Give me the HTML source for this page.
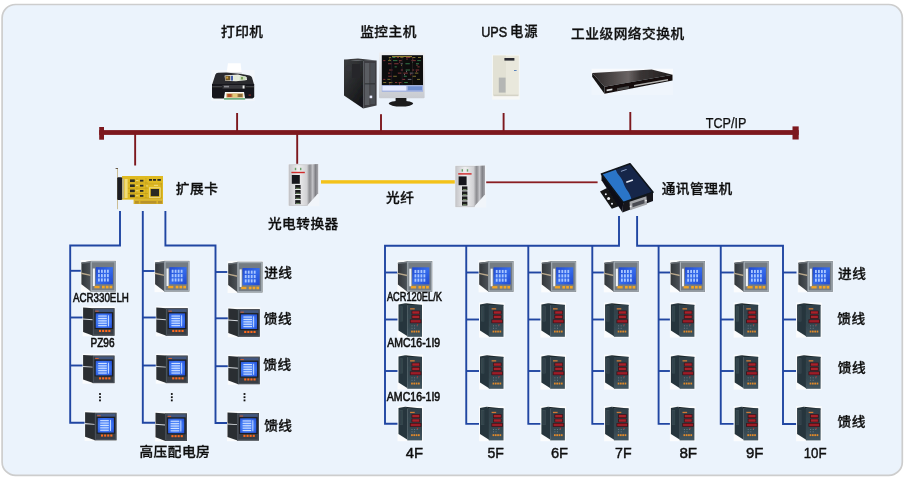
<!DOCTYPE html>
<html lang="zh-CN"><head><meta charset="utf-8"><title>电力监控系统网络结构图</title>
<style>
html,body{margin:0;padding:0;background:#fff;}
body{width:905px;height:480px;overflow:hidden;font-family:"Liberation Sans","Noto Sans CJK SC",sans-serif;}
svg{display:block;}
</style></head><body>
<svg width="905" height="480" viewBox="0 0 905 480">
<defs>
<linearGradient id="gSide" x1="0" y1="0" x2="1" y2="0"><stop offset="0" stop-color="#33373b"/><stop offset="1" stop-color="#4c5258"/></linearGradient>
<linearGradient id="gLcd" x1="0" y1="0" x2="1" y2="1"><stop offset="0" stop-color="#2048d0"/><stop offset="0.5" stop-color="#356cec"/><stop offset="1" stop-color="#2048d0"/></linearGradient>
<linearGradient id="gConvSide" x1="0" y1="0" x2="1" y2="0"><stop offset="0" stop-color="#bdbdc0"/><stop offset="0.25" stop-color="#8c8c90"/><stop offset="0.5" stop-color="#c4c4c8"/><stop offset="0.75" stop-color="#808085"/><stop offset="1" stop-color="#a8a8ad"/></linearGradient>
<linearGradient id="gConvFront" x1="0" y1="0" x2="1" y2="0"><stop offset="0" stop-color="#c6c6ca"/><stop offset="0.5" stop-color="#eeeeef"/><stop offset="1" stop-color="#cfcfd2"/></linearGradient>
<linearGradient id="gSwTop" x1="0" y1="0" x2="1" y2="0"><stop offset="0" stop-color="#2a2626"/><stop offset="0.45" stop-color="#6a6464"/><stop offset="0.6" stop-color="#3a3535"/><stop offset="1" stop-color="#221f1f"/></linearGradient>
<linearGradient id="gTower" x1="0" y1="0" x2="0.6" y2="1"><stop offset="0" stop-color="#3c3e40"/><stop offset="1" stop-color="#17181a"/></linearGradient>
<linearGradient id="gAmc" x1="0" y1="0" x2="0" y2="1"><stop offset="0" stop-color="#2f4049"/><stop offset="0.7" stop-color="#364851"/><stop offset="1" stop-color="#42555f"/></linearGradient>
<radialGradient id="gLcd2" cx="0.45" cy="0.5" r="0.7"><stop offset="0" stop-color="#6a9cff"/><stop offset="0.6" stop-color="#3c74f2"/><stop offset="1" stop-color="#2450d8"/></radialGradient>
<linearGradient id="gBezel" x1="0" y1="0" x2="0" y2="1"><stop offset="0" stop-color="#eef0f3"/><stop offset="1" stop-color="#c8cbd1"/></linearGradient>
<filter id="soft" x="-10%" y="-10%" width="120%" height="120%"><feGaussianBlur stdDeviation="0.5"/></filter>
<filter id="tsoft" x="-2%" y="-2%" width="104%" height="104%"><feGaussianBlur stdDeviation="0.28"/></filter>
<filter id="soft2" x="-10%" y="-10%" width="120%" height="120%"><feGaussianBlur stdDeviation="0.35"/></filter>

<g id="mSilver">
 <rect x="0" y="0" width="35.5" height="31" fill="#fbfcfd" filter="url(#soft)"/>
 <g filter="url(#soft2)">
 <polygon points="0.6,2.4 10,1.2 10,30.4 0.6,23.4" fill="url(#gSide)"/>
 <polygon points="0.6,2.4 10,1.2 10,2.6 0.6,3.6" fill="#6a7076"/>
 <line x1="0.3" y1="12.8" x2="10" y2="14.8" stroke="#b9a88c" stroke-width="1.3"/>
 <rect x="9.6" y="0.8" width="25.4" height="29.8" fill="#747c83"/>
 <rect x="10.5" y="1.7" width="23.6" height="28" fill="none" stroke="#a7afb6" stroke-width="1"/>
 <rect x="12" y="8.2" width="2.1" height="17" fill="#f2f5f9"/>
 <rect x="14.9" y="6.9" width="17.2" height="16.5" fill="url(#gLcd)"/>
 <g fill="#a9c6ff">
  <rect x="17.2" y="9.4" width="1.8" height="3"/><rect x="20.2" y="9.4" width="1.8" height="3"/><rect x="23.2" y="9.4" width="1.8" height="3"/><rect x="26.2" y="9.4" width="1.8" height="3"/>
  <rect x="17.2" y="13.6" width="1.8" height="3"/><rect x="20.2" y="13.6" width="1.8" height="3"/><rect x="23.2" y="13.6" width="1.8" height="3"/><rect x="26.2" y="13.6" width="1.8" height="3"/>
  <rect x="17.2" y="17.8" width="1.8" height="3"/><rect x="20.2" y="17.8" width="1.8" height="3"/><rect x="23.2" y="17.8" width="1.8" height="3"/><rect x="26.2" y="17.8" width="1.8" height="3"/>
 </g>
 <rect x="13.6" y="25" width="5.2" height="2.3" fill="#f0a428"/>
 <rect x="21.2" y="24.9" width="2.7" height="2.5" fill="#f5a623"/><rect x="25" y="24.9" width="2.7" height="2.5" fill="#f5a623"/><rect x="28.8" y="24.9" width="2.7" height="2.5" fill="#f5a623"/>
 </g>
</g>

<g id="mBlack">
 <rect x="0" y="0" width="32.5" height="30" fill="#fbfcfd" filter="url(#soft)"/>
 <g filter="url(#soft2)">
 <polygon points="0.5,1.3 10.5,1.9 10.5,29.4 0.5,25.8" fill="#2a2e32"/>
 <polygon points="0,12.2 10.3,13 10.3,13.9 0,13.3" fill="#d8dce0"/>
 <rect x="10" y="1.8" width="22" height="27.7" fill="#383e45"/>
 <rect x="10.8" y="2.6" width="20.4" height="26.1" fill="none" stroke="#4f565e" stroke-width="0.8"/>
 <rect x="12.6" y="3" width="18" height="2.6" fill="#4c6cae" opacity="0.55"/>
 <rect x="12" y="6" width="18.6" height="16.8" fill="#1b1e22"/>
 <rect x="13.1" y="7.1" width="16.2" height="14.6" fill="url(#gLcd2)"/>
 <g fill="#cfe0ff">
  <rect x="15.6" y="9.2" width="8.6" height="1.1"/><rect x="15.6" y="11.6" width="8.6" height="1.1"/><rect x="15.6" y="14" width="8.6" height="1.1"/><rect x="15.6" y="16.4" width="8.6" height="1.1"/><rect x="15.6" y="18.8" width="8.6" height="1.1"/>
  <rect x="25.4" y="9" width="0.9" height="11"/>
 </g>
 <rect x="12.6" y="4.4" width="3.5" height="0.9" fill="#e06028"/>
 <rect x="16.4" y="23.6" width="2.1" height="2.1" fill="#ff6a1e"/><rect x="19.5" y="23.6" width="2.1" height="2.1" fill="#ff6a1e"/><rect x="22.6" y="23.6" width="2.1" height="2.1" fill="#ff6a1e"/><rect x="25.7" y="23.6" width="2.1" height="2.1" fill="#ff6a1e"/>
 </g>
</g>

<g id="mAmc">
 <rect x="0" y="-0.4" width="25.6" height="35" fill="#fbfcfd" filter="url(#soft)"/>
 <g filter="url(#soft2)">
 <polygon points="1,1.4 7.6,0.2 10,1.6 10,33.2 1,27.4" fill="#27363d"/>
 <polygon points="7.6,0.2 24.4,2 24.4,2.8 10,2.2" fill="#1a2328"/>
 <rect x="9.8" y="1.8" width="14.7" height="32" fill="url(#gAmc)"/>
 <rect x="2.2" y="3.4" width="3" height="15" fill="#44555d" opacity="0.8"/>
 <rect x="2.9" y="4" width="0.6" height="14" fill="#2a3a42"/><rect x="4" y="4" width="0.6" height="14" fill="#2a3a42"/>
 <rect x="12.6" y="5.2" width="4.6" height="1.3" fill="#d07a34"/>
 <rect x="14" y="7.6" width="8.6" height="3.8" fill="#3c1218"/><rect x="14.8" y="8.3" width="7" height="2.4" fill="#a8222c"/>
 <rect x="14" y="12" width="8.6" height="3.8" fill="#3c1218"/><rect x="14.8" y="12.7" width="7" height="2.4" fill="#a8222c"/>
 <rect x="12.4" y="16.4" width="11.4" height="3.8" fill="#3c1218"/><rect x="13.2" y="17.1" width="9.8" height="2.4" fill="#9c1e28"/>
 <g fill="#6f808c"><rect x="14" y="22.4" width="1" height="0.9"/><rect x="16.6" y="22.4" width="1" height="0.9"/><rect x="19.2" y="22.4" width="1" height="0.9"/><rect x="14" y="24.8" width="1" height="0.9"/><rect x="16.6" y="24.8" width="1" height="0.9"/></g>
 <rect x="19.4" y="21.2" width="1.2" height="1.1" fill="#c03030"/>
 <g fill="#e08a2c"><rect x="13.6" y="27.6" width="1.7" height="1.9"/><rect x="15.9" y="27.6" width="1.7" height="1.9"/><rect x="18.2" y="27.6" width="1.7" height="1.9"/><rect x="20.5" y="27.6" width="1.7" height="1.9"/></g>
 </g>
</g>
</defs>
<rect x="2.1" y="4.5" width="900.2" height="470.9" rx="13.5" ry="13.5" fill="#ebf3fc" stroke="#cdcdcd" stroke-width="1.7"/>
<g fill="#7d181e">
<rect x="99.2" y="130.1" width="699.5" height="4.8"/>
<rect x="99.2" y="127" width="4.8" height="12.7"/>
<rect x="792.5" y="126.4" width="6.2" height="13.1"/>
<rect x="134.20" y="134" width="1.9" height="31.50"/>
<rect x="236.15" y="113" width="1.9" height="18.00"/>
<rect x="380.05" y="114.2" width="1.9" height="16.80"/>
<rect x="296.25" y="134" width="1.9" height="30.00"/>
<rect x="502.65" y="113" width="1.9" height="18.00"/>
<rect x="629.35" y="112" width="1.9" height="19.00"/>
</g>
<rect x="321" y="180.2" width="135" height="3.4" fill="#f3c21a"/>
<rect x="485" y="181.4" width="112.6" height="1.8" fill="#8a1e22"/>
<path d="M120,211 V245.5 H70.2 V422.7 H85" fill="none" stroke="#2046a2" stroke-width="1.9" stroke-linejoin="miter"/>
<path d="M142.8,211 V422.7 H155.5" fill="none" stroke="#2046a2" stroke-width="1.9" stroke-linejoin="miter"/>
<path d="M165.4,211 V245.5 H215.5 V423 H228" fill="none" stroke="#2046a2" stroke-width="1.9" stroke-linejoin="miter"/>
<path d="M70.2,270.8 H81.5" fill="none" stroke="#2046a2" stroke-width="1.9" stroke-linejoin="miter"/>
<path d="M70.2,317.5 H83" fill="none" stroke="#2046a2" stroke-width="1.9" stroke-linejoin="miter"/>
<path d="M70.2,365.5 H83.5" fill="none" stroke="#2046a2" stroke-width="1.9" stroke-linejoin="miter"/>
<path d="M142.8,271 H155" fill="none" stroke="#2046a2" stroke-width="1.9" stroke-linejoin="miter"/>
<path d="M142.8,317.5 H156.5" fill="none" stroke="#2046a2" stroke-width="1.9" stroke-linejoin="miter"/>
<path d="M142.8,365.5 H156.5" fill="none" stroke="#2046a2" stroke-width="1.9" stroke-linejoin="miter"/>
<path d="M215.5,272 H227.5" fill="none" stroke="#2046a2" stroke-width="1.9" stroke-linejoin="miter"/>
<path d="M215.5,318.3 H228.5" fill="none" stroke="#2046a2" stroke-width="1.9" stroke-linejoin="miter"/>
<path d="M215.5,366.2 H228.5" fill="none" stroke="#2046a2" stroke-width="1.9" stroke-linejoin="miter"/>
<path d="M619,216 V245.7 H385 V423.8 H398.5" fill="none" stroke="#2046a2" stroke-width="1.9" stroke-linejoin="miter"/>
<path d="M637.1,216 V245.7 H783 V424 H797" fill="none" stroke="#2046a2" stroke-width="1.9" stroke-linejoin="miter"/>
<path d="M466.25,245.7 V423.9 H479.25" fill="none" stroke="#2046a2" stroke-width="1.9" stroke-linejoin="miter"/>
<path d="M528.3,245.7 V423.9 H541.3" fill="none" stroke="#2046a2" stroke-width="1.9" stroke-linejoin="miter"/>
<path d="M592.3,245.7 V423.9 H605.3" fill="none" stroke="#2046a2" stroke-width="1.9" stroke-linejoin="miter"/>
<path d="M658.6,245.7 V423.9 H671.6" fill="none" stroke="#2046a2" stroke-width="1.9" stroke-linejoin="miter"/>
<path d="M720.75,245.7 V423.9 H733.75" fill="none" stroke="#2046a2" stroke-width="1.9" stroke-linejoin="miter"/>
<path d="M385,272.5 H398.5" fill="none" stroke="#2046a2" stroke-width="1.9" stroke-linejoin="miter"/>
<path d="M385,319.5 H398.5" fill="none" stroke="#2046a2" stroke-width="1.9" stroke-linejoin="miter"/>
<path d="M385,371 H398.5" fill="none" stroke="#2046a2" stroke-width="1.9" stroke-linejoin="miter"/>
<path d="M466.25,272.5 H479.75" fill="none" stroke="#2046a2" stroke-width="1.9" stroke-linejoin="miter"/>
<path d="M466.25,319.5 H479.75" fill="none" stroke="#2046a2" stroke-width="1.9" stroke-linejoin="miter"/>
<path d="M466.25,371 H479.75" fill="none" stroke="#2046a2" stroke-width="1.9" stroke-linejoin="miter"/>
<path d="M528.3,272.5 H541.8" fill="none" stroke="#2046a2" stroke-width="1.9" stroke-linejoin="miter"/>
<path d="M528.3,319.5 H541.8" fill="none" stroke="#2046a2" stroke-width="1.9" stroke-linejoin="miter"/>
<path d="M528.3,371 H541.8" fill="none" stroke="#2046a2" stroke-width="1.9" stroke-linejoin="miter"/>
<path d="M592.3,272.5 H605.8" fill="none" stroke="#2046a2" stroke-width="1.9" stroke-linejoin="miter"/>
<path d="M592.3,319.5 H605.8" fill="none" stroke="#2046a2" stroke-width="1.9" stroke-linejoin="miter"/>
<path d="M592.3,371 H605.8" fill="none" stroke="#2046a2" stroke-width="1.9" stroke-linejoin="miter"/>
<path d="M658.6,272.5 H672.1" fill="none" stroke="#2046a2" stroke-width="1.9" stroke-linejoin="miter"/>
<path d="M658.6,319.5 H672.1" fill="none" stroke="#2046a2" stroke-width="1.9" stroke-linejoin="miter"/>
<path d="M658.6,371 H672.1" fill="none" stroke="#2046a2" stroke-width="1.9" stroke-linejoin="miter"/>
<path d="M720.75,272.5 H734.25" fill="none" stroke="#2046a2" stroke-width="1.9" stroke-linejoin="miter"/>
<path d="M720.75,319.5 H734.25" fill="none" stroke="#2046a2" stroke-width="1.9" stroke-linejoin="miter"/>
<path d="M720.75,371 H734.25" fill="none" stroke="#2046a2" stroke-width="1.9" stroke-linejoin="miter"/>
<path d="M783,272.5 H796.5" fill="none" stroke="#2046a2" stroke-width="1.9" stroke-linejoin="miter"/>
<path d="M783,319.5 H796.5" fill="none" stroke="#2046a2" stroke-width="1.9" stroke-linejoin="miter"/>
<path d="M783,371 H796.5" fill="none" stroke="#2046a2" stroke-width="1.9" stroke-linejoin="miter"/>
<use href="#mSilver" transform="translate(80.8,260.0) scale(1,1.035)"/>
<use href="#mBlack" x="82.6" y="306.3"/>
<use href="#mBlack" x="82.6" y="353.7"/>
<use href="#mBlack" x="84.6" y="410.9"/>
<use href="#mSilver" transform="translate(154.5,260.0) scale(1,1.035)"/>
<use href="#mBlack" x="155.8" y="306.3"/>
<use href="#mBlack" x="155.8" y="353.7"/>
<use href="#mBlack" x="155" y="411.5"/>
<use href="#mSilver" transform="translate(227.6,260.9) scale(1,1.035)"/>
<use href="#mBlack" x="227.8" y="307.3"/>
<use href="#mBlack" x="227.8" y="354.8"/>
<use href="#mBlack" x="227" y="411.2"/>
<use href="#mSilver" transform="translate(397.3,260.2) scale(1,1.035)"/>
<use href="#mAmc" x="397.5" y="303"/>
<use href="#mAmc" x="397.5" y="355"/>
<use href="#mAmc" x="397.5" y="406.6"/>
<use href="#mSilver" transform="translate(478.6,260.2) scale(1,1.035)"/>
<use href="#mAmc" x="479" y="303"/>
<use href="#mAmc" x="479" y="355"/>
<use href="#mAmc" x="479" y="406.6"/>
<use href="#mSilver" transform="translate(541.2,260.2) scale(1,1.035)"/>
<use href="#mAmc" x="540.4" y="303"/>
<use href="#mAmc" x="540.4" y="355"/>
<use href="#mAmc" x="540.4" y="406.6"/>
<use href="#mSilver" transform="translate(603.8,260.2) scale(1,1.035)"/>
<use href="#mAmc" x="604.1" y="303"/>
<use href="#mAmc" x="604.1" y="355"/>
<use href="#mAmc" x="604.1" y="406.6"/>
<use href="#mSilver" transform="translate(670,260.2) scale(1,1.035)"/>
<use href="#mAmc" x="669.9" y="303"/>
<use href="#mAmc" x="669.9" y="355"/>
<use href="#mAmc" x="669.9" y="406.6"/>
<use href="#mSilver" transform="translate(733.8,260.2) scale(1,1.035)"/>
<use href="#mAmc" x="733.7" y="303"/>
<use href="#mAmc" x="733.7" y="355"/>
<use href="#mAmc" x="733.7" y="406.6"/>
<use href="#mSilver" transform="translate(797.8,260.2) scale(1,1.035)"/>
<use href="#mAmc" x="796.1" y="303"/>
<use href="#mAmc" x="796.1" y="355"/>
<use href="#mAmc" x="796.1" y="406.6"/>
<g id="printer">
<rect x="211.5" y="70" width="43" height="31" fill="#f4f7fb" opacity="0.8" filter="url(#soft)"/>
<g filter="url(#soft2)">
<polygon points="228,63.3 240.6,63.3 241.8,74 226.4,74" fill="#ffffff"/>
<polygon points="226.4,72.6 241.7,72.6 241.8,74.4 226.3,74.4" fill="#c9ccd2"/>
<path d="M212,85 L215.4,74.6 Q216,72.8 218,72.8 L226,72.4 L243,74.2 L249.6,75.6 Q251.4,76 252,77.6 L254.2,85 Z" fill="#2a2a2d"/>
<path d="M212,84 H254.2 V96.6 Q254.2,98.4 252.4,98.4 H213.8 Q212,98.4 212,96.6 Z" fill="#19191c"/>
<polygon points="224.6,75.4 238,74.4 246.6,77 247,80 236,81.3 225.2,80.8" fill="#eceee8"/>
<rect x="225.4" y="76" width="4.8" height="4.4" fill="#6d5226"/><rect x="226.2" y="76.6" width="2" height="2" fill="#c9a040"/>
<rect x="230.8" y="75.8" width="2.2" height="4.8" fill="#4660a8"/>
<rect x="233.6" y="75.4" width="5.2" height="5.2" fill="#e3ead8"/><rect x="239.6" y="76.2" width="6" height="4" fill="#cadcb8"/><rect x="241" y="77" width="2" height="2.4" fill="#7aa05a"/>
<rect x="222.5" y="85" width="22.8" height="3.7" fill="#38383c"/>
<rect x="224" y="85.8" width="5" height="1.6" fill="#8a8a90"/>
<rect x="242.6" y="85.5" width="1.9" height="3" fill="#ececec"/>
<rect x="212.3" y="86.3" width="9.6" height="0.9" fill="#56565a"/><rect x="245.8" y="86.3" width="8.2" height="0.9" fill="#56565a"/>
<polygon points="225,92 244,92 245.2,99.3 223.8,99.3" fill="#fafafa"/>
<rect x="226.4" y="93.4" width="16.8" height="4.2" fill="#c9a25a"/><rect x="227.4" y="94" width="4.2" height="3" fill="#b4502a"/><rect x="232.8" y="94" width="4.2" height="3" fill="#e4c878"/><rect x="238.2" y="94" width="4" height="3" fill="#8a6a3a"/>
<rect x="224" y="98.3" width="21.2" height="1.2" fill="#2f8a4a"/>
<rect x="248.6" y="94.6" width="2.4" height="1" fill="#a03030"/>
</g></g>
<g id="pc">
<g filter="url(#soft2)">
<polygon points="344,59.6 363.2,61 363.2,108.4 344,95.4" fill="url(#gTower)"/>
<polygon points="344,59.6 358,58.6 376.6,60.6 363.2,61" fill="#3a3b3e"/>
<polygon points="363.2,61 376.6,60.6 376.6,105.6 363.2,108.4" fill="#3c3e42"/>
<rect x="364.8" y="63" width="4.6" height="42" fill="#5a5d62"/>
<rect x="370.2" y="63" width="4.8" height="41" fill="#4a4d52"/>
<rect x="364.8" y="83.4" width="10.2" height="0.9" fill="#2a2b2e"/>
<rect x="369.6" y="95.6" width="2.6" height="2.6" fill="#e8ecff"/>
<circle cx="348.6" cy="68.5" r="3" fill="#34363a"/>
<rect x="352" y="64" width="8" height="14" fill="#26282b"/>
<rect x="379" y="52.3" width="45.6" height="46" rx="1" fill="url(#gBezel)"/>
<rect x="381.8" y="55.2" width="41.2" height="30" fill="#0b0b10"/>
<rect x="381.8" y="85.2" width="41.2" height="6.6" fill="#9fb0e0"/>
<rect x="382.4" y="86" width="24" height="4.6" fill="#e6eaff"/><rect x="408" y="86.4" width="14" height="3.8" fill="#6f8fd0"/>
<rect x="388.8" y="57.2" width="2.2" height="0.8" fill="#b0a040" opacity="0.85"/><rect x="389.4" y="58.4" width="0.8" height="1.4" fill="#b0a040" opacity="0.8"/><rect x="392.4" y="57.2" width="3" height="0.8" fill="#4aa860" opacity="0.85"/><rect x="396.8" y="57.2" width="2.2" height="0.8" fill="#b84a4a" opacity="0.85"/><rect x="400.4" y="57.2" width="3" height="0.8" fill="#b0a040" opacity="0.85"/><rect x="406.0" y="57.2" width="4.4" height="0.8" fill="#b84a4a" opacity="0.85"/><rect x="406.6" y="58.4" width="0.8" height="1.4" fill="#d06060" opacity="0.8"/><rect x="411.8" y="57.2" width="3.6" height="0.8" fill="#b0a040" opacity="0.85"/><rect x="412.4" y="58.4" width="0.8" height="1.4" fill="#c25050" opacity="0.8"/><rect x="418.0" y="57.2" width="3" height="0.8" fill="#b0a040" opacity="0.85"/><rect x="383.2" y="60.3" width="2.2" height="0.8" fill="#b84a4a" opacity="0.85"/><rect x="388.0" y="60.3" width="3" height="0.8" fill="#b0a040" opacity="0.85"/><rect x="393.0" y="60.3" width="4.4" height="0.8" fill="#4aa860" opacity="0.85"/><rect x="398.8" y="60.3" width="3" height="0.8" fill="#b84a4a" opacity="0.85"/><rect x="399.4" y="61.5" width="0.8" height="1.4" fill="#c25050" opacity="0.8"/><rect x="411.4" y="60.3" width="4.4" height="0.8" fill="#b84a4a" opacity="0.85"/><rect x="412.0" y="61.5" width="0.8" height="1.4" fill="#4aa860" opacity="0.8"/><rect x="417.2" y="60.3" width="3.6" height="0.8" fill="#4aa860" opacity="0.85"/><rect x="388.0" y="63.4" width="3.6" height="0.8" fill="#c25050" opacity="0.85"/><rect x="394.2" y="63.4" width="4.4" height="0.8" fill="#b84a4a" opacity="0.85"/><rect x="400.6" y="63.4" width="2.2" height="0.8" fill="#9a9aa8" opacity="0.85"/><rect x="401.2" y="64.6" width="0.8" height="1.4" fill="#b0a040" opacity="0.8"/><rect x="405.4" y="63.4" width="4.4" height="0.8" fill="#4aa860" opacity="0.85"/><rect x="416.0" y="63.4" width="3" height="0.8" fill="#4aa860" opacity="0.85"/><rect x="416.6" y="64.6" width="0.8" height="1.4" fill="#d06060" opacity="0.8"/><rect x="394.6" y="66.5" width="2.2" height="0.8" fill="#4aa860" opacity="0.85"/><rect x="417.4" y="66.5" width="2.2" height="0.8" fill="#b84a4a" opacity="0.85"/><rect x="389.0" y="69.6" width="3.6" height="0.8" fill="#b84a4a" opacity="0.85"/><rect x="400.8" y="69.6" width="2.2" height="0.8" fill="#d06060" opacity="0.85"/><rect x="405.6" y="69.6" width="4.4" height="0.8" fill="#4aa860" opacity="0.85"/><rect x="406.2" y="70.8" width="0.8" height="1.4" fill="#9a9aa8" opacity="0.8"/><rect x="412.0" y="69.6" width="2.2" height="0.8" fill="#b84a4a" opacity="0.85"/><rect x="415.6" y="69.6" width="3.6" height="0.8" fill="#b84a4a" opacity="0.85"/><rect x="416.2" y="70.8" width="0.8" height="1.4" fill="#b84a4a" opacity="0.8"/><rect x="388.0" y="72.7" width="2.2" height="0.8" fill="#b84a4a" opacity="0.85"/><rect x="397.8" y="72.7" width="3.6" height="0.8" fill="#b84a4a" opacity="0.85"/><rect x="403.4" y="72.7" width="4.4" height="0.8" fill="#b84a4a" opacity="0.85"/><rect x="404.0" y="73.9" width="0.8" height="1.4" fill="#9a9aa8" opacity="0.8"/><rect x="409.8" y="72.7" width="3.6" height="0.8" fill="#9a9aa8" opacity="0.85"/><rect x="410.4" y="73.9" width="0.8" height="1.4" fill="#b84a4a" opacity="0.8"/><rect x="414.8" y="72.7" width="3.6" height="0.8" fill="#b0a040" opacity="0.85"/><rect x="388.2" y="75.8" width="3.6" height="0.8" fill="#b84a4a" opacity="0.85"/><rect x="393.2" y="75.8" width="3.6" height="0.8" fill="#b0a040" opacity="0.85"/><rect x="403.8" y="75.8" width="3" height="0.8" fill="#4aa860" opacity="0.85"/><rect x="412.4" y="75.8" width="3.6" height="0.8" fill="#b0a040" opacity="0.85"/><rect x="383.2" y="78.9" width="2.2" height="0.8" fill="#b84a4a" opacity="0.85"/><rect x="387.4" y="78.9" width="3" height="0.8" fill="#b0a040" opacity="0.85"/><rect x="402.2" y="78.9" width="3" height="0.8" fill="#b84a4a" opacity="0.85"/><rect x="407.8" y="78.9" width="3.6" height="0.8" fill="#9a9aa8" opacity="0.85"/><rect x="417.0" y="78.9" width="3" height="0.8" fill="#b0a040" opacity="0.85"/><rect x="383.2" y="82.0" width="3" height="0.8" fill="#b0a040" opacity="0.85"/><rect x="388.8" y="82.0" width="3.6" height="0.8" fill="#b0a040" opacity="0.85"/><rect x="389.4" y="83.2" width="0.8" height="1.4" fill="#b84a4a" opacity="0.8"/><rect x="395.0" y="82.0" width="2.2" height="0.8" fill="#b84a4a" opacity="0.85"/><rect x="398.6" y="82.0" width="3" height="0.8" fill="#b84a4a" opacity="0.85"/><rect x="399.2" y="83.2" width="0.8" height="1.4" fill="#b84a4a" opacity="0.8"/><rect x="404.2" y="82.0" width="3.6" height="0.8" fill="#4aa860" opacity="0.85"/><rect x="392" y="56.1" width="20" height="0.8" fill="#c8b040" opacity="0.9"/><rect x="391.6" y="57" width="0.5" height="27.6" fill="#3a2a2e"/><rect x="401.8" y="57" width="0.5" height="27.6" fill="#3a2a2e"/><rect x="412.2" y="57" width="0.5" height="27.6" fill="#3a2a2e"/>
<rect x="395.6" y="98" width="10.8" height="5" fill="#1c1c1f"/>
<ellipse cx="401" cy="103.6" rx="12.2" ry="2.9" fill="#1a1a1d"/>
</g></g>
<g id="ups">
<rect x="492.2" y="54.8" width="27.5" height="44.8" fill="#f7f8f6" filter="url(#soft)"/>
<g filter="url(#soft2)">
<rect x="493" y="55.6" width="25.8" height="39.6" fill="#e9e8dc"/>
<rect x="493" y="55.6" width="13" height="39.6" fill="#e2e1d4"/>
<rect x="504.4" y="58" width="10" height="2.6" fill="#2a2c30"/>
<rect x="498.8" y="77.6" width="6.8" height="15" fill="#b4b6b4"/>
<rect x="514" y="70" width="2.6" height="0.9" fill="#4a78b8"/>
<rect x="493.5" y="94.6" width="25" height="1.6" fill="#d4d3c6"/>
</g></g>
<g id="switch">
<rect x="591.6" y="68.8" width="81.4" height="8" fill="#f8fafd" filter="url(#soft)"/>
<rect x="591.6" y="76" width="81.4" height="19" fill="#f3f7fc" opacity="0.55" filter="url(#soft)"/>
<g filter="url(#soft2)">
<polygon points="592.2,73 651.7,69.6 672.5,74.8 604.5,86.8" fill="url(#gSwTop)"/>
<polygon points="592.2,73 604.5,86.8 604.5,93.8 592.2,76.8" fill="#141212"/>
<polygon points="604.5,86.8 672.5,74.8 672.5,80.4 604.5,93.8" fill="#120f0f"/>
<polygon points="634,85 668,79 668,80.6 634,86.6" fill="#b4b2b0"/>
<polygon points="617,88.2 629,86.1 629,88.6 617,90.7" fill="#4a4848"/>
<polygon points="606.6,89.6 612.4,88.6 612.4,90.2 606.6,91.2" fill="#d8d8d8"/>
</g></g>
<g id="card">
<g filter="url(#soft2)">
<rect x="117" y="168.6" width="0.9" height="40.6" fill="#c9b88a"/>
<rect x="115.6" y="168" width="2.4" height="0.9" fill="#5a4a3a"/>
<rect x="122" y="176" width="41" height="23.6" fill="#dfba22"/>
<g fill="#b8941c" opacity="0.75"><rect x="128" y="182.6" width="20" height="0.7"/><rect x="128" y="187.8" width="20" height="0.7"/><rect x="128" y="193" width="20" height="0.7"/><rect x="136.6" y="178" width="0.7" height="20"/><rect x="145.6" y="178" width="0.7" height="20"/><rect x="147" y="183.6" width="15" height="0.7"/><rect x="160.8" y="183" width="0.8" height="15"/><rect x="135" y="197.6" width="27" height="0.8"/></g>
<g fill="#f2e08a" opacity="0.8"><rect x="136" y="180" width="2.4" height="1"/><rect x="136" y="185" width="2.4" height="1"/><rect x="136" y="190.2" width="2.4" height="1"/><rect x="136" y="195.2" width="2.4" height="1"/><rect x="146" y="185.4" width="2" height="1"/><rect x="154" y="184.8" width="4" height="1.2"/></g>
<rect x="133.6" y="199.2" width="29.4" height="4.8" fill="#d9b32c"/>
<rect x="135" y="201" width="3.8" height="2.6" fill="#b8922a"/><rect x="140.4" y="201" width="16" height="2.6" fill="#b8922a"/><rect x="158" y="201" width="4" height="2.6" fill="#b8922a"/>
<rect x="117.2" y="177.2" width="5" height="22.8" rx="1" fill="#1e1e20"/>
<rect x="122.2" y="178.5" width="1.6" height="20" fill="#b9b19a"/>
<rect x="124.6" y="179" width="3" height="19" fill="#f0dc7a"/>
<g fill="#2a2a22">
<rect x="130" y="179.4" width="4.8" height="2.6"/><rect x="130" y="184.4" width="4.8" height="2.6"/><rect x="130" y="189.6" width="4.8" height="2.6"/><rect x="130" y="194.6" width="4.8" height="2.6"/>
<rect x="140" y="179.8" width="3.4" height="1.8"/><rect x="140" y="184.8" width="3.4" height="1.8"/><rect x="140" y="190" width="3.4" height="1.8"/><rect x="140" y="195" width="3.4" height="1.8"/>
<rect x="149" y="179" width="3" height="1.8"/><rect x="153" y="179" width="3" height="1.8"/><rect x="157.4" y="179" width="3.4" height="1.8"/>
<rect x="150.8" y="189" width="8.2" height="7.2"/>
</g>
<rect x="149.6" y="187.8" width="10.6" height="9.6" fill="none" stroke="#f3e6a0" stroke-width="0.7"/>
</g></g>
<g id="conv1" transform="translate(288.6,164.2)">
<rect x="-0.6" y="-0.4" width="31.4" height="42.4" fill="#f1f5fa" filter="url(#soft)"/>
<g filter="url(#soft2)">
<polygon points="18.6,0.4 29.6,-0.2 29.6,29 18.6,41.2" fill="url(#gConvSide)"/>
<rect x="0.4" y="0.6" width="18.4" height="40.6" fill="url(#gConvFront)"/>
<rect x="0.4" y="0.6" width="18.4" height="40.6" fill="none" stroke="#bdbdc0" stroke-width="0.6"/>
<rect x="6.2" y="3.6" width="1.4" height="2.4" fill="#6aa06a"/><rect x="11.4" y="3.6" width="1.4" height="2.4" fill="#6aa06a"/>
<rect x="2.8" y="7.6" width="13.4" height="1.4" fill="#d02a2a"/>
<rect x="3.2" y="10.8" width="8" height="8.8" fill="#17181b"/>
<rect x="6.6" y="20.8" width="5.4" height="4" fill="#1b1c1f"/><rect x="6.6" y="25.8" width="5.4" height="4" fill="#1b1c1f"/><rect x="6.6" y="30.8" width="5.4" height="4" fill="#1b1c1f"/><rect x="6.6" y="35.9" width="5.4" height="4" fill="#1b1c1f"/>
<g fill="#7a9a6a"><rect x="7.4" y="23.6" width="3.8" height="0.9"/><rect x="7.4" y="28.6" width="3.8" height="0.9"/><rect x="7.4" y="33.6" width="3.8" height="0.9"/><rect x="7.4" y="38.7" width="3.8" height="0.9"/></g>
</g></g>
<g id="conv2" transform="translate(455.4,165.6)">
<rect x="-0.6" y="-0.4" width="31.4" height="42.4" fill="#f1f5fa" filter="url(#soft)"/>
<g filter="url(#soft2)">
<polygon points="18.6,0.4 29.6,-0.2 29.6,29 18.6,41.2" fill="url(#gConvSide)"/>
<rect x="0.4" y="0.6" width="18.4" height="40.6" fill="url(#gConvFront)"/>
<rect x="0.4" y="0.6" width="18.4" height="40.6" fill="none" stroke="#bdbdc0" stroke-width="0.6"/>
<rect x="6.2" y="3.6" width="1.4" height="2.4" fill="#6aa06a"/><rect x="11.4" y="3.6" width="1.4" height="2.4" fill="#6aa06a"/>
<rect x="2.8" y="7.6" width="13.4" height="1.4" fill="#d02a2a"/>
<rect x="3.2" y="10.8" width="8" height="8.8" fill="#17181b"/>
<rect x="6.6" y="20.8" width="5.4" height="4" fill="#1b1c1f"/><rect x="6.6" y="25.8" width="5.4" height="4" fill="#1b1c1f"/><rect x="6.6" y="30.8" width="5.4" height="4" fill="#1b1c1f"/><rect x="6.6" y="35.9" width="5.4" height="4" fill="#1b1c1f"/>
<g fill="#7a9a6a"><rect x="7.4" y="23.6" width="3.8" height="0.9"/><rect x="7.4" y="28.6" width="3.8" height="0.9"/><rect x="7.4" y="33.6" width="3.8" height="0.9"/><rect x="7.4" y="38.7" width="3.8" height="0.9"/></g>
</g></g>
<g id="comm">
<g filter="url(#soft2)">
<polygon points="600,191.5 607,188 619.4,206 611.8,208.8" fill="#131418"/>
<circle cx="605.8" cy="194.2" r="1" fill="#f0f2f6"/><circle cx="608.6" cy="198.6" r="1.5" fill="#f0f2f6"/><circle cx="612" cy="203.8" r="1" fill="#f0f2f6"/>
<polygon points="601.5,174 623.2,202.4 622.5,212.6 601.5,180.2" fill="#0e1014"/>
<polygon points="623.2,202.4 653,192.2 653,201 622.5,212.6" fill="#17181c"/>
<polygon points="601.5,174 630,163.8 653,192.2 623.2,202.4" fill="#18284a"/>
<path d="M601.5,174 L615.6,169 C617,175 622,177 623.5,183 C625,189 630,192 631.5,199.6 L623.2,202.4 Z" fill="#2c74c8"/>
<rect x="626" y="180.6" width="7" height="1.4" fill="#e8eef8" transform="rotate(-19 629 181)"/>
<rect x="620.6" y="170.2" width="6" height="0.9" fill="#9ab0d8" transform="rotate(-19 623 170)"/>
<polygon points="601.5,174 630,163.8 653,192.2 623.2,202.4" fill="none" stroke="#10131a" stroke-width="1.6" stroke-linejoin="round"/>
<polygon points="629.6,201.8 646.4,196.2 647,204.4 630,210.2" fill="#a4a6aa"/>
<polygon points="632.2,203.4 644.2,199.4 644.6,203.2 632.6,207.2" fill="#4a4c52"/>
<circle cx="630.6" cy="206.4" r="0.9" fill="#e8e8ea"/><circle cx="646" cy="200.6" r="0.9" fill="#e8e8ea"/>
</g></g>
<g font-family='"Liberation Sans","Noto Sans CJK SC",sans-serif' fill="#0d0d0d" filter="url(#tsoft)">
<text transform="translate(242.25,36.4) scale(1,0.945)" font-size="13.7" font-weight="500" text-anchor="middle" letter-spacing="0.5" stroke="#0d0d0d" stroke-width="0.3">打印机</text>
<text transform="translate(388.55,36.4) scale(1,0.945)" font-size="13.7" font-weight="500" text-anchor="middle" letter-spacing="0.5" stroke="#0d0d0d" stroke-width="0.3">监控主机</text>
<text font-weight="500"><tspan x="481.2" y="36.6" font-size="15.3" font-weight="400" textLength="26" lengthAdjust="spacingAndGlyphs" stroke="#0d0d0d" stroke-width="0.5">UPS</tspan><tspan font-size="6"> </tspan><tspan x="524.3" y="36.1" text-anchor="middle" font-size="13.3" letter-spacing="0.9" stroke="#0d0d0d" stroke-width="0.3">电源</tspan></text>
<text transform="translate(627.85,38.4) scale(1,0.945)" font-size="13.7" font-weight="500" text-anchor="middle" letter-spacing="0.5" stroke="#0d0d0d" stroke-width="0.3">工业级网络交换机</text>
<text x="726" y="128" font-size="14.6" font-weight="400" text-anchor="middle" textLength="40.6" lengthAdjust="spacingAndGlyphs" stroke="#0d0d0d" stroke-width="0.25">TCP/IP</text>
<text transform="translate(197.05,193.2) scale(1,0.945)" font-size="13.7" font-weight="500" text-anchor="middle" letter-spacing="0.5" stroke="#0d0d0d" stroke-width="0.3">扩展卡</text>
<text transform="translate(303.35,228) scale(1,0.945)" font-size="13.7" font-weight="500" text-anchor="middle" letter-spacing="0.5" stroke="#0d0d0d" stroke-width="0.3">光电转换器</text>
<text transform="translate(400.15,202.3) scale(1,0.945)" font-size="13.7" font-weight="500" text-anchor="middle" letter-spacing="0.5" stroke="#0d0d0d" stroke-width="0.3">光纤</text>
<text transform="translate(697.15,192.9) scale(1,0.945)" font-size="13.7" font-weight="500" text-anchor="middle" letter-spacing="0.5" stroke="#0d0d0d" stroke-width="0.3">通讯管理机</text>
<text transform="translate(278.35,277.3) scale(1,0.945)" font-size="13.7" font-weight="500" text-anchor="middle" letter-spacing="0.5" stroke="#0d0d0d" stroke-width="0.3">进线</text>
<text transform="translate(278.05,322.8) scale(1,0.945)" font-size="13.7" font-weight="500" text-anchor="middle" letter-spacing="0.5" stroke="#0d0d0d" stroke-width="0.3">馈线</text>
<text transform="translate(277.55,369.2) scale(1,0.945)" font-size="13.7" font-weight="500" text-anchor="middle" letter-spacing="0.5" stroke="#0d0d0d" stroke-width="0.3">馈线</text>
<text transform="translate(278.35,430.4) scale(1,0.945)" font-size="13.7" font-weight="500" text-anchor="middle" letter-spacing="0.5" stroke="#0d0d0d" stroke-width="0.3">馈线</text>
<text transform="translate(174.85,456.2) scale(1,0.945)" font-size="13.7" font-weight="500" text-anchor="middle" letter-spacing="0.5" stroke="#0d0d0d" stroke-width="0.3">高压配电房</text>
<text transform="translate(852.25,277.8) scale(1,0.945)" font-size="13.7" font-weight="500" text-anchor="middle" letter-spacing="0.5" stroke="#0d0d0d" stroke-width="0.3">进线</text>
<text transform="translate(851.55,323.4) scale(1,0.945)" font-size="13.7" font-weight="500" text-anchor="middle" letter-spacing="0.5" stroke="#0d0d0d" stroke-width="0.3">馈线</text>
<text transform="translate(852.05,371.8) scale(1,0.945)" font-size="13.7" font-weight="500" text-anchor="middle" letter-spacing="0.5" stroke="#0d0d0d" stroke-width="0.3">馈线</text>
<text transform="translate(851.75,426.1) scale(1,0.945)" font-size="13.7" font-weight="500" text-anchor="middle" letter-spacing="0.5" stroke="#0d0d0d" stroke-width="0.3">馈线</text>
<text x="100.9" y="302.1" font-size="12.3" font-weight="400" text-anchor="middle" textLength="56" lengthAdjust="spacingAndGlyphs" stroke="#0d0d0d" stroke-width="0.6">ACR330ELH</text>
<text x="102.5" y="347.4" font-size="12.3" font-weight="400" text-anchor="middle" textLength="24" lengthAdjust="spacingAndGlyphs" stroke="#0d0d0d" stroke-width="0.6">PZ96</text>
<text x="414.4" y="300.6" font-size="12.3" font-weight="400" text-anchor="middle" textLength="55" lengthAdjust="spacingAndGlyphs" stroke="#0d0d0d" stroke-width="0.6">ACR120EL/K</text>
<text x="413.7" y="347.4" font-size="12.3" font-weight="400" text-anchor="middle" textLength="53" lengthAdjust="spacingAndGlyphs" stroke="#0d0d0d" stroke-width="0.6">AMC16-1I9</text>
<text x="413.5" y="400.6" font-size="12.3" font-weight="400" text-anchor="middle" textLength="53.4" lengthAdjust="spacingAndGlyphs" stroke="#0d0d0d" stroke-width="0.6">AMC16-1I9</text>
<text x="414.45" y="457.6" font-size="15.5" font-weight="400" text-anchor="middle" textLength="17.3" lengthAdjust="spacingAndGlyphs" stroke="#0d0d0d" stroke-width="0.45">4F</text>
<text x="495.6" y="457.6" font-size="15.5" font-weight="400" text-anchor="middle" textLength="16.4" lengthAdjust="spacingAndGlyphs" stroke="#0d0d0d" stroke-width="0.45">5F</text>
<text x="559.5" y="457.6" font-size="15.5" font-weight="400" text-anchor="middle" textLength="17.2" lengthAdjust="spacingAndGlyphs" stroke="#0d0d0d" stroke-width="0.45">6F</text>
<text x="623.35" y="457.6" font-size="15.5" font-weight="400" text-anchor="middle" textLength="16.5" lengthAdjust="spacingAndGlyphs" stroke="#0d0d0d" stroke-width="0.45">7F</text>
<text x="688.25" y="457.6" font-size="15.5" font-weight="400" text-anchor="middle" textLength="17.7" lengthAdjust="spacingAndGlyphs" stroke="#0d0d0d" stroke-width="0.45">8F</text>
<text x="754.75" y="457.6" font-size="15.5" font-weight="400" text-anchor="middle" textLength="17.5" lengthAdjust="spacingAndGlyphs" stroke="#0d0d0d" stroke-width="0.45">9F</text>
<text x="815.15" y="457.6" font-size="15.5" font-weight="400" text-anchor="middle" textLength="22.9" lengthAdjust="spacingAndGlyphs" stroke="#0d0d0d" stroke-width="0.45">10F</text>
<rect x="99.1" y="393.1" width="1.8" height="1.8"/>
<rect x="99.1" y="396.3" width="1.8" height="1.8"/>
<rect x="99.1" y="399.5" width="1.8" height="1.8"/>
<rect x="170.9" y="393.1" width="1.8" height="1.8"/>
<rect x="170.9" y="396.3" width="1.8" height="1.8"/>
<rect x="170.9" y="399.5" width="1.8" height="1.8"/>
<rect x="243.6" y="393.1" width="1.8" height="1.8"/>
<rect x="243.6" y="396.3" width="1.8" height="1.8"/>
<rect x="243.6" y="399.5" width="1.8" height="1.8"/>
</g>
</svg>
</body></html>
